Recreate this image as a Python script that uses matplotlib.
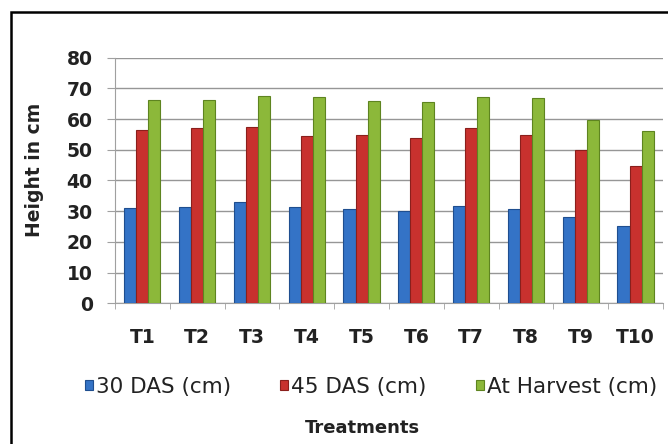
import matplotlib
matplotlib.use("Agg")

import matplotlib.pyplot as plt
import numpy as np
from matplotlib.patches import Rectangle

treatments = ["T1", "T2", "T3", "T4", "T5", "T6", "T7", "T8", "T9", "T10"]
das30 = [31.0, 31.5, 32.9, 31.5, 30.6, 30.0, 31.7, 30.8, 28.2, 25.3]
das45 = [56.4, 57.0, 57.3, 54.5, 54.8, 53.7, 57.2, 54.8, 49.9, 44.7]
harvest = [66.2, 66.2, 67.5, 67.1, 66.0, 65.7, 67.1, 66.8, 59.7, 56.2]

series = [
    ("30 DAS (cm)", das30, "#3473C6", "#1F4E8F"),
    ("45 DAS (cm)", das45, "#C8312E", "#8A1F1C"),
    ("At Harvest (cm)", harvest, "#8CB83A", "#5E8420"),
]

fig = plt.figure(figsize=(6.68, 4.44), dpi=100)
ax = fig.add_axes([0.172, 0.317, 0.8205, 0.553])

x = np.arange(len(treatments))
w = 0.22
for i, (name, vals, col, edge) in enumerate(series):
    ax.bar(x + (i - 1) * w, vals, w, color=col, edgecolor=edge,
           linewidth=0.8, label=name, zorder=3)

ax.set_xlim(-0.5, len(treatments) - 0.5)
ax.set_ylim(0, 80)
ax.set_yticks(range(0, 81, 10))
ax.set_xticks(x)
ax.set_xticklabels(treatments)
ax.set_xticks(np.arange(-0.5, len(treatments)), minor=True)

ax.grid(axis="y", color="#969696", linewidth=1.0, zorder=0)
for s in ["top", "right"]:
    ax.spines[s].set_visible(False)
ax.spines["left"].set_color("#a0a0a0")
ax.spines["bottom"].set_color("#a0a0a0")

ax.tick_params(axis="y", length=6, color="#a0a0a0", pad=10,
               labelsize=13.5)
ax.tick_params(axis="x", which="major", length=0, pad=18, labelsize=13.5)
ax.tick_params(axis="x", which="minor", length=4, color="#a0a0a0")
for lab in ax.get_xticklabels() + ax.get_yticklabels():
    lab.set_fontweight("bold")
    lab.set_color("#222222")

fig.text(34 / 668, 1 - 170 / 444, "Height in cm", rotation=90,
         ha="center", va="center", fontsize=13.5, fontweight="bold",
         color="#222222")
fig.text(362 / 668, 1 - 428 / 444, "Treatments", ha="center",
         va="center", fontsize=13, fontweight="bold", color="#222222")

fig.legend(loc="center", bbox_to_anchor=(371 / 668, 1 - 387 / 444),
           ncol=3, frameon=False, fontsize=15.5, handlelength=0.35,
           handleheight=0.35, handletextpad=0.15, columnspacing=2.3,
           borderpad=0, labelcolor="#222222")

# outer frame, open at the right and bottom edges
fig.patches.append(Rectangle((11 / 668, -0.1), 1.2, 1 - 12 / 444 + 0.1,
                             transform=fig.transFigure, fill=False,
                             edgecolor="black", linewidth=1.8))

fig.savefig("out.png", dpi=100)
